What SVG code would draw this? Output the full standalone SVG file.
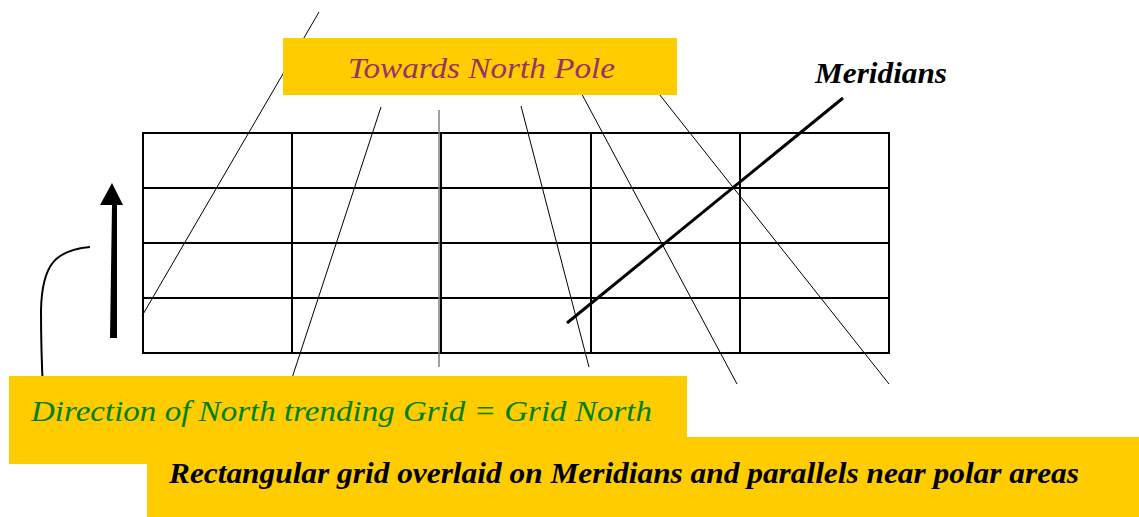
<svg xmlns="http://www.w3.org/2000/svg" width="1139" height="517" viewBox="0 0 1139 517">
<style>
.box{fill:#FFCC00;stroke:none}
.grid{fill:none;stroke:#000;stroke-width:2}
.mer{stroke:#000;stroke-width:1;fill:none}
.lbl{font-family:'Liberation Serif','Times New Roman',Times,serif;font-style:italic;font-size:30px}
</style>
<rect width="1139" height="517" fill="#fff"/>
<g id="meridians">
<line class="mer" x1="319" y1="12" x2="142" y2="316"/>
<line class="mer" x1="381" y1="107" x2="292" y2="378"/>
<line class="mer" x1="521" y1="106" x2="589" y2="367"/>
<line class="mer" x1="570" y1="72" x2="737" y2="384"/>
<line class="mer" x1="640" y1="70" x2="889" y2="384"/>
</g>
<g id="grid">
<rect class="grid" x="143" y="133" width="746" height="220"/>
<path class="grid" d="M143,188H889M143,243H889M143,298H889M292,133V353M441,133V353M591,133V353M740,133V353"/>
<line x1="439" y1="110" x2="439" y2="367" stroke="#808080" stroke-width="1.5"/>
</g>
<g id="connectors">
<line x1="567" y1="323" x2="843" y2="98" stroke="#000" stroke-width="3"/>
<path d="M90,247 C55,250 42,265 41,310 C41,340 42,370 43,389" fill="none" stroke="#000" stroke-width="2"/>
<path d="M110,338 L112,205 L100,205 L112,183 L123,205 L117,205 L117,338 Z" fill="#000"/>
</g>
<g id="towards">
<rect class="box" x="283" y="38" width="394" height="57"/>
<text class="lbl" x="348" y="78" font-size="33" fill="#993366" textLength="267" lengthAdjust="spacingAndGlyphs">Towards North Pole</text>
</g>
<g id="meridians-label">
<text class="lbl" x="815" y="83" font-size="31" fill="#000" font-weight="bold" textLength="132" lengthAdjust="spacingAndGlyphs">Meridians</text>
</g>
<g id="direction">
<rect class="box" x="9" y="376" width="678" height="88"/>
<text class="lbl" x="31" y="421" font-size="33" fill="#008000" textLength="621" lengthAdjust="spacingAndGlyphs">Direction of North trending Grid = Grid North</text>
</g>
<g id="rectangular">
<rect class="box" x="147" y="437" width="992" height="80"/>
<text class="lbl" x="169" y="483" font-size="31" fill="#000" font-weight="bold" textLength="910" lengthAdjust="spacingAndGlyphs">Rectangular grid overlaid on Meridians and parallels near polar areas</text>
</g>
</svg>
